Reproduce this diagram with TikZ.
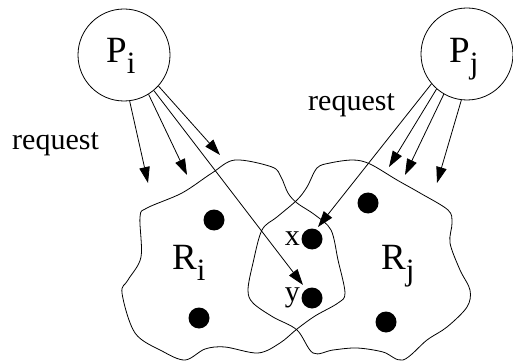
\documentclass[tikz,border=0pt]{standalone}
\usepackage{fontspec}
\setmainfont{Liberation Serif}
\newfontfamily\tmsfont{Liberation Serif}
\usetikzlibrary{arrows.meta}
\newcommand{\bigtxt}{\tmsfont\fontsize{37}{37}\selectfont}
\newcommand{\midtxt}{\tmsfont\fontsize{30}{30}\selectfont}
\newcommand{\subtxt}[1]{\raisebox{-11pt}{\tmsfont\fontsize{31}{31}\selectfont #1}}
\begin{document}
\begin{tikzpicture}[x=1pt,y=-1pt,
  proc/.style={draw,circle,line width=0.8pt,minimum size=92pt,inner sep=0pt},
  dot/.style={circle,fill=black,minimum size=21pt,inner sep=0pt},
  req/.style={-{Triangle[length=16pt,width=10.5pt]},line width=0.8pt},
  region/.style={line width=0.8pt},
  lbl/.style={inner sep=0pt}]
\useasboundingbox (0,0) rectangle (513,363);
% processes
\node[proc] (Pi) at (124,55) {};
\node[proc] (Pj) at (467,54) {};
\node[lbl,anchor=base west] (Pilab) at (106,63) {\bigtxt P\subtxt{i}};
\node[lbl,anchor=base west] (Pjlab) at (449,63) {\bigtxt P\subtxt{j}};
% regions
\draw[region] plot[smooth cycle,tension=0.55] coordinates {
 (235,160) (272,167) (281,177) (288,193) (297,203) (315,215) (331,230) (338,260) (345,293) (338,303) (315,316) (297,329) (280,343) (258,353) (225,347) (205,349) (185,360) (162,351) (135,333) (122,293) (128,280) (141,257) (140,217) (147,208) (182,193) (212,173)};
\draw[region] plot[smooth cycle,tension=0.55] coordinates {
 (353,160) (370,164) (397,180) (420,193) (448,210) (452,223) (450,243) (460,270) (470,290) (467,307) (447,327) (427,340) (403,360) (383,352) (357,348) (333,350) (313,353) (297,330) (273,317) (253,303) (248,290) (253,263) (262,230) (277,217) (297,200) (307,187) (317,168) (330,163)};
\node[lbl,anchor=base west] (Rilab) at (172,269) {\bigtxt R\subtxt{i}};
\node[lbl,anchor=base west] (Rjlab) at (381,269) {\bigtxt R\subtxt{j}};
% dots
\node[dot] (a1) at (214,220) {};
\node[dot] (a2) at (199,318) {};
\node[dot] (dx) at (312,239) {};
\node[dot] (dy) at (312,298) {};
\node[dot] (b1) at (368,203) {};
\node[dot] (b2) at (386,322) {};
\node[lbl,anchor=base east] (xlab) at (300,245) {\midtxt x};
\node[lbl,anchor=base east] (ylab) at (300,301) {\midtxt y};
% labels
\node[lbl,anchor=base west] (req1) at (12,150) {\midtxt request};
\node[lbl,anchor=base west] (req2) at (308,111) {\midtxt request};
% arrow ends
\coordinate (ti1) at (148,183);
\coordinate (ti2) at (187,175);
\coordinate (ti3) at (220,155);
\coordinate (tiy) at (303,285);
\coordinate (tj1) at (389,167);
\coordinate (tj2) at (405,175);
\coordinate (tj3) at (437,183);
\coordinate (tjx) at (318,227);
\draw[req] (Pi.-83) -- (ti1);
\draw[req] (Pi.-58) -- (ti2);
\draw[req] (Pi.-42) -- (ti3);
\draw[req] (Pi.-50) -- (tiy);
\draw[req] (Pj.-131) -- (tj1);
\draw[req] (Pj.-120) -- (tj2);
\draw[req] (Pj.-97) -- (tj3);
\draw[req] (Pj.-140) -- (tjx);
\end{tikzpicture}
\end{document}
